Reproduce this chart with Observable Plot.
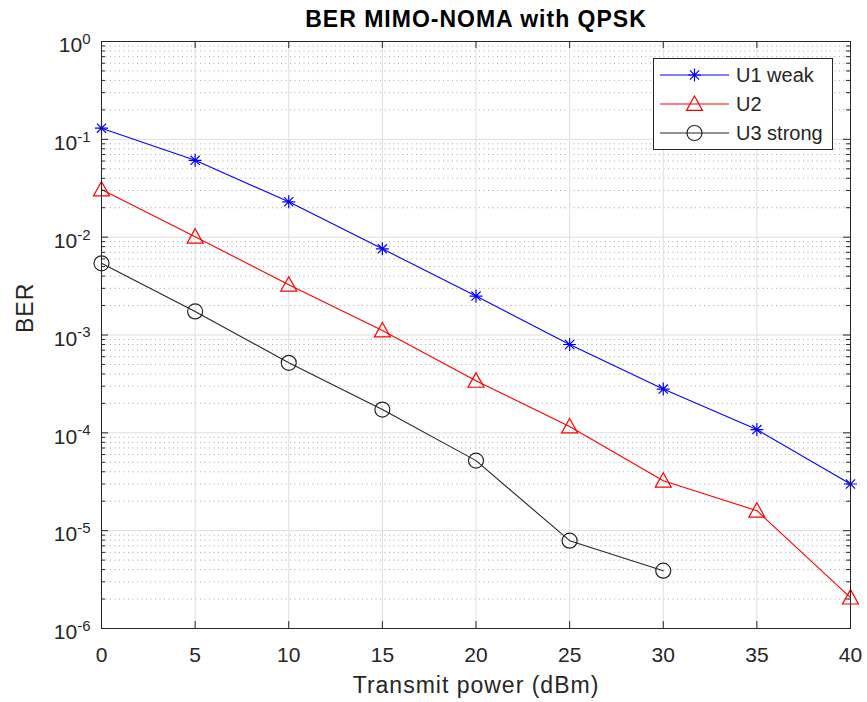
<!DOCTYPE html>
<html><head><meta charset="utf-8">
<script src="https://cdn.jsdelivr.net/npm/d3@7"></script>
<script src="https://cdn.jsdelivr.net/npm/@observablehq/plot@0.6"></script>
<style>
body{margin:0;background:#fff}
#chart svg{font-family:"Liberation Sans",Arial,Helvetica,sans-serif}
</style>
</head><body><div id="chart"></div>
<script>
// ---- data ----
const power = [0, 5, 10, 15, 20, 25, 30, 35, 40];
const u1Weak = [0.13, 0.061, 0.023, 0.0076, 0.0025, 0.0008, 0.00028, 0.000108, 0.00003];
const u2 = [0.0307, 0.0101, 0.00327, 0.00111, 0.00034, 0.000116, 0.0000324, 0.000016, 0.00000207];
const u3Strong = [0.0054, 0.00174, 0.00052, 0.000173, 0.000052, 0.0000079, 0.0000039];
const seriesNames = ["U1 weak", "U2", "U3 strong"];
const seriesColors = ["#0000ff", "#ff0000", "#262626"];
const xTicks = [0, 5, 10, 15, 20, 25, 30, 35, 40];
const yExponents = [0, -1, -2, -3, -4, -5, -6];
const titleText = "BER MIMO-NOMA with QPSK";
const xLabel = "Transmit power (dBm)";
const yLabel = "BER";

// ---- layout ----
const W = 867, H = 702, ML = 101, MR = 17, MT = 41, MB = 74;
const innerW = W - ML - MR, innerH = H - MT - MB;
const FONT = 21;

const seriesValues = [u1Weak, u2, u3Strong];
const rows = seriesValues.flatMap((vals, i) => vals.map((v, j) => ({series: seriesNames[i], power: power[j], ber: v})));
const decades = yExponents.map(e => 10 ** e);
const minors = [];
for (let e = -6; e < 0; e++) for (let m = 2; m <= 9; m++) minors.push(m * 10 ** e);

// ---- custom MATLAB-like markers ----
const asterisk = {draw(ctx, size) {
  const r = Math.sqrt(size / Math.PI);
  const d = r * 0.7071;
  ctx.moveTo(0, -r); ctx.lineTo(0, r);
  ctx.moveTo(-r, 0); ctx.lineTo(r, 0);
  ctx.moveTo(-d, -d); ctx.lineTo(d, d);
  ctx.moveTo(-d, d); ctx.lineTo(d, -d);
}};
const triangle = {draw(ctx, size) {
  const r = Math.sqrt(size / Math.PI);
  ctx.moveTo(0, -r);
  ctx.lineTo(r, r * 0.8);
  ctx.lineTo(-r, r * 0.8);
  ctx.closePath();
}};
const circle = {draw(ctx, size) {
  const r = Math.sqrt(size / Math.PI);
  ctx.moveTo(r, 0);
  ctx.arc(0, 0, r, 0, 2 * Math.PI);
}};
const symbols = [asterisk, triangle, circle];
const symbolR = [6.5, 8, 7.5];

const marks = [
  Plot.ruleY(minors, {y: d => d, stroke: "#a8a8a8", strokeDasharray: "1,3.5", strokeWidth: 1}),
  Plot.ruleY(decades, {y: d => d, stroke: "#dedede", strokeWidth: 1}),
  Plot.ruleX(xTicks, {x: d => d, stroke: "#dedede", strokeWidth: 1}),
];
seriesNames.forEach((name, i) => {
  const data = rows.filter(r => r.series === name);
  marks.push(Plot.line(data, {x: "power", y: "ber", stroke: seriesColors[i], strokeWidth: 1.1}));
  marks.push(Plot.dot(data, {x: "power", y: "ber", stroke: seriesColors[i], symbol: symbols[i], r: symbolR[i], strokeWidth: 1.2, fill: "none"}));
});
marks.push(
  // inward ticks
  Plot.tickX(xTicks, {x: d => d, insetTop: innerH - 7, stroke: "#262626"}),
  Plot.tickX(xTicks, {x: d => d, insetBottom: innerH - 7, stroke: "#262626"}),
  Plot.tickY(decades, {y: d => d, insetRight: innerW - 7, stroke: "#262626"}),
  Plot.tickY(decades, {y: d => d, insetLeft: innerW - 7, stroke: "#262626"}),
  Plot.tickY(minors, {y: d => d, insetRight: innerW - 4, stroke: "#262626"}),
  Plot.tickY(minors, {y: d => d, insetLeft: innerW - 4, stroke: "#262626"}),
  Plot.frame({stroke: "#262626", strokeWidth: 1}),
  // tick labels
  Plot.text(xTicks, {x: d => d, frameAnchor: "bottom", lineAnchor: "middle", dy: 27, text: d => String(d), fontSize: FONT, fill: "#262626"}),
  Plot.text(yExponents, {y: d => 10 ** d, frameAnchor: "left", dx: -11, dy: 4, textAnchor: "end", text: d => String(d), fontSize: FONT, fill: "#262626", className: "ytl"}),
  // titles
  Plot.text([titleText], {frameAnchor: "top", lineAnchor: "middle", dy: -22, text: d => d, fontSize: 23, fontWeight: "bold", fill: "#000", className: "ttl"}),
  Plot.text([xLabel], {frameAnchor: "bottom", lineAnchor: "middle", dy: 57, text: d => d, fontSize: 23, fill: "#262626", className: "xlab"}),
  Plot.text([yLabel], {frameAnchor: "left", dx: -76, dy: -2, rotate: -90, text: d => d, fontSize: 23, fill: "#262626", className: "ylab"})
);

const chart = Plot.plot({
  width: W, height: H,
  marginLeft: ML, marginRight: MR, marginTop: MT, marginBottom: MB,
  x: {domain: [0, 40], axis: null},
  y: {type: "log", domain: [1e-6, 1], axis: null},
  style: {background: "white", overflow: "visible"},
  marks
});
document.getElementById("chart").append(chart);

const svg = d3.select(chart);
// slightly wider lettering, like the original rendering
svg.selectAll(".ttl text").style("letter-spacing", "1px");
svg.selectAll(".xlab text").style("letter-spacing", "1px");
svg.selectAll(".ylab text").style("letter-spacing", "1px");

// superscript exponents on y tick labels
svg.selectAll(".ytl text").each(function() {
  const e = this.textContent;
  const t = d3.select(this);
  t.text(null);
  t.append("tspan").text("10");
  t.append("tspan").attr("dy", "-0.55em").attr("font-size", 15).text(e);
});

// legend (inside top-right of the axes)
const lg = svg.append("g").attr("font-size", 20).attr("fill", "#262626").attr("text-anchor", "start");
lg.append("rect").attr("x", 653.5).attr("y", 58.5).attr("width", 179).attr("height", 91)
  .attr("fill", "white").attr("stroke", "#262626");
const rowY = [75, 104, 133];
seriesNames.forEach((name, i) => {
  lg.append("line").attr("x1", 660).attr("x2", 729).attr("y1", rowY[i]).attr("y2", rowY[i])
    .attr("stroke", seriesColors[i]).attr("stroke-width", 1.1);
  const p = d3.path();
  symbols[i].draw(p, Math.PI * symbolR[i] * symbolR[i]);
  lg.append("path").attr("d", p.toString()).attr("transform", `translate(694.5,${rowY[i]})`)
    .attr("stroke", seriesColors[i]).attr("fill", "none").attr("stroke-width", 1.2);
  lg.append("text").attr("x", 736).attr("y", rowY[i]).attr("dy", "0.35em").text(name);
});
</script>
</body></html>
